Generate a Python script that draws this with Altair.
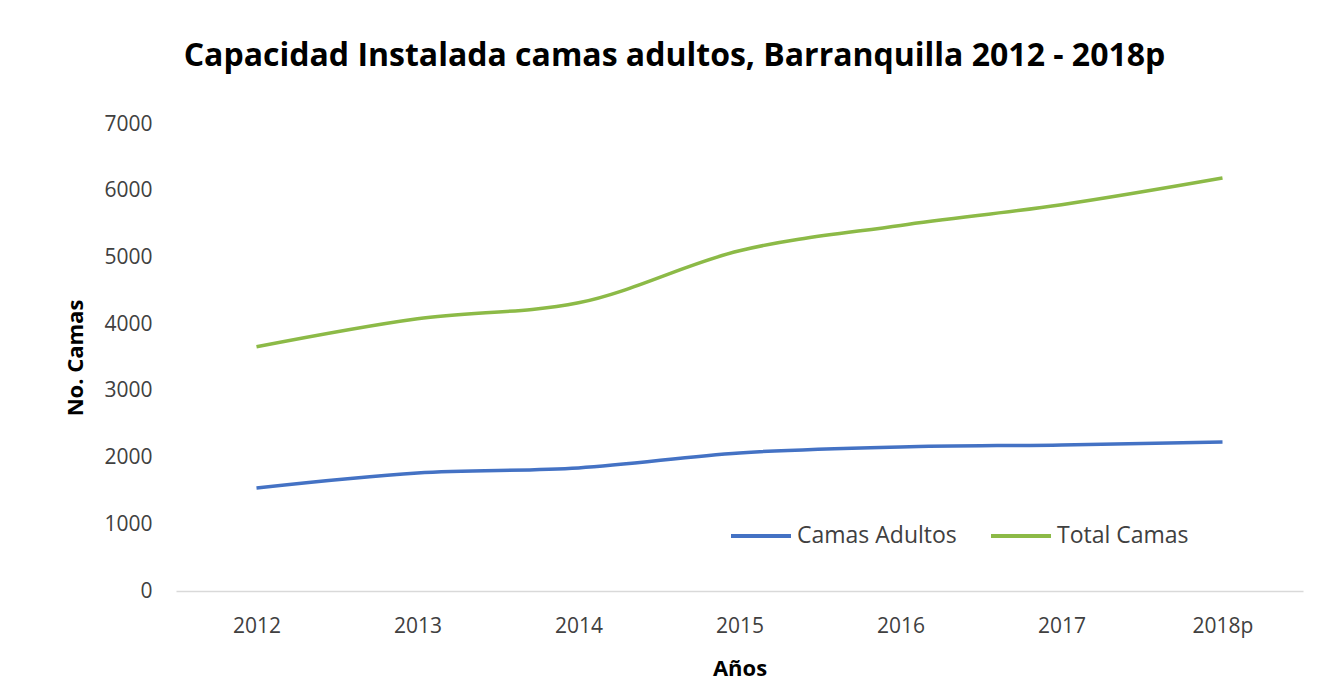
import altair as alt
import pandas as pd

years = ["2012", "2013", "2014", "2015", "2016", "2017", "2018p"]
camas_adultos = [1545, 1770, 1845, 2070, 2160, 2190, 2235]
total_camas = [3660, 4080, 4320, 5100, 5480, 5790, 6190]
series_names = ["Camas Adultos", "Total Camas"]
series_colors = ["#4472C4", "#8CBA47"]

rows = []
for y, a, t in zip(years, camas_adultos, total_camas):
    rows.append({"Año": y, "Serie": series_names[0], "Valor": a})
    rows.append({"Año": y, "Serie": series_names[1], "Valor": t})
df = pd.DataFrame(rows)

font = "Open Sans"

line = alt.Chart(df).mark_line(strokeWidth=3.5, interpolate="monotone").encode(
    x=alt.X("Año:N", sort=years, scale=alt.Scale(paddingOuter=0.5, paddingInner=1),
            axis=alt.Axis(title="Años", labelAngle=0, tickSize=0, labelPadding=24,
                          titlePadding=22, domainColor="#D9D9D9", domainWidth=1.5,
                          grid=False)),
    y=alt.Y("Valor:Q", scale=alt.Scale(domain=[0, 7000], nice=False),
            axis=alt.Axis(title="No. Camas", values=list(range(0, 7001, 1000)), format="d",
                          tickSize=0, labelPadding=24, titlePadding=16, domain=False,
                          grid=False)),
    color=alt.Color("Serie:N", sort=series_names,
                    scale=alt.Scale(domain=series_names, range=series_colors),
                    legend=alt.Legend(title=None, orient="none", direction="horizontal",
                                      legendX=553, legendY=380, symbolType="stroke",
                                      symbolSize=3600, symbolStrokeWidth=4,
                                      labelFontSize=23, labelFont=font, labelColor="#404040",
                                      labelOffset=4, columnPadding=26)),
)

chart = line.properties(
    width=1127,
    height=467,
    title=alt.Title("Capacidad Instalada camas adultos, Barranquilla 2012 - 2018p",
                    fontSize=32, font=font, fontWeight="bold", color="#000000",
                    anchor="middle", dx=-65, offset=40),
    autosize=alt.AutoSizeParams(type="none"),
    padding={"left": 168, "top": 116, "right": 8, "bottom": 90},
).configure_axis(
    labelFont=font, labelFontSize=21, labelColor="#404040",
    titleFont=font, titleFontSize=22, titleFontWeight="bold", titleColor="#000000",
).configure_view(stroke=None)

chart.save("out.html", embed_options={"renderer": "svg", "actions": False})
